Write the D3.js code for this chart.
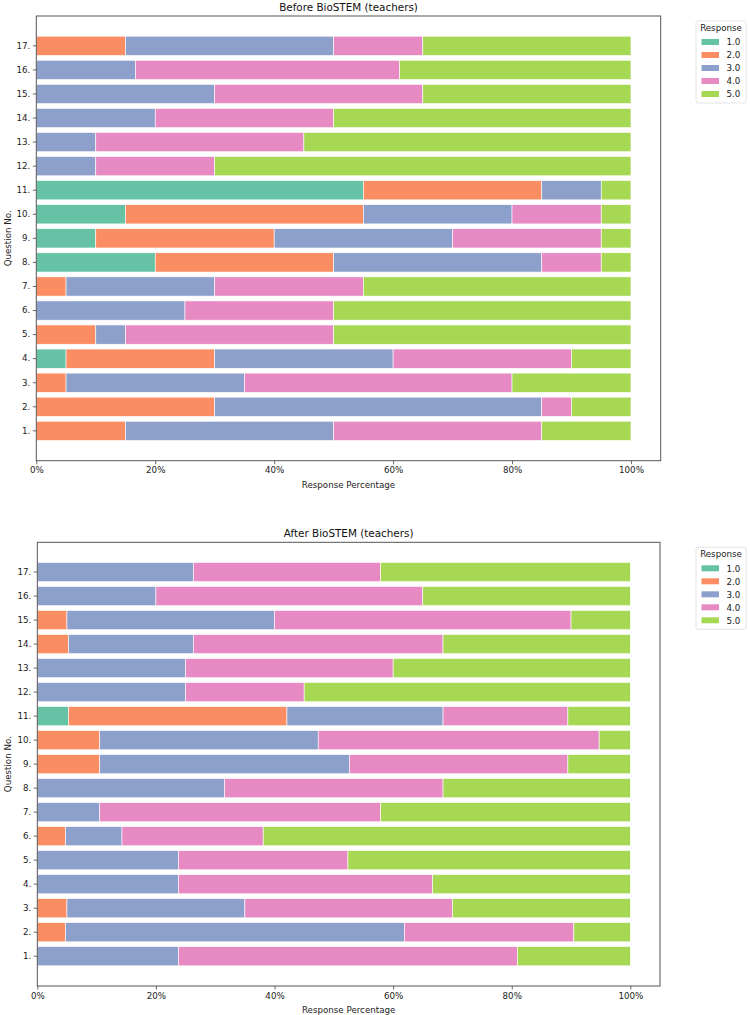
<!DOCTYPE html>
<html>
<head>
<meta charset="utf-8">
<script src="https://cdn.jsdelivr.net/npm/d3@7"></script>
<style>
    body { margin: 0; background: #fff; }
    svg { display: block; font-family: "DejaVu Sans", sans-serif; }
</style>
</head>
<body>
<script>

// data
var QUESTIONS = ["1.", "2.", "3.", "4.", "5.", "6.", "7.", "8.", "9.", "10.",
    "11.", "12.", "13.", "14.", "15.", "16.", "17."];
var RESPONSES = ["1.0", "2.0", "3.0", "4.0", "5.0"];
var COLORS = ["#66c2a5", "#fc8d62", "#8da0cb", "#e78ac3", "#a6d854"];
var X_TICKS = [0, 20, 40, 60, 80, 100];

// percentage per response (1.0 .. 5.0), one row per question 1. .. 17.
var BEFORE = [
    [0, 15, 35, 35, 15],
    [0, 30, 55, 5, 10],
    [0, 5, 30, 45, 20],
    [5, 25, 30, 30, 10],
    [0, 10, 5, 35, 50],
    [0, 0, 25, 25, 50],
    [0, 5, 25, 25, 45],
    [20, 30, 35, 10, 5],
    [10, 30, 30, 25, 5],
    [15, 40, 25, 15, 5],
    [55, 30, 10, 0, 5],
    [0, 0, 10, 20, 70],
    [0, 0, 10, 35, 55],
    [0, 0, 20, 30, 50],
    [0, 0, 30, 35, 35],
    [0, 0, 16.67, 44.44, 38.89],
    [0, 15, 35, 15, 35]
];
var AFTER = [
    [0, 0, 23.81, 57.14, 19.05],
    [0, 4.76, 57.14, 28.57, 9.52],
    [0, 5, 30, 35, 30],
    [0, 0, 23.81, 42.86, 33.33],
    [0, 0, 23.81, 28.57, 47.62],
    [0, 4.76, 9.52, 23.81, 61.9],
    [0, 0, 10.53, 47.37, 42.1],
    [0, 0, 31.58, 36.84, 31.58],
    [0, 10.53, 42.1, 36.84, 10.53],
    [0, 10.53, 36.84, 47.37, 5.26],
    [5.26, 36.84, 26.32, 21.05, 10.53],
    [0, 0, 25, 20, 55],
    [0, 0, 25, 35, 40],
    [0, 5.26, 21.05, 42.1, 31.58],
    [0, 5, 35, 50, 10],
    [0, 0, 20, 45, 35],
    [0, 0, 26.32, 31.58, 42.1]
];

var WIDTH = 750, HEIGHT = 1015;

var svg = d3.select("body").append("svg")
    .attr("width", WIDTH)
    .attr("height", HEIGHT);

var color = d3.scaleOrdinal().domain(RESPONSES).range(COLORS);

// draw one stacked horizontal bar panel
function drawPanel(title, values, box) {
    var g = svg.append("g");

    // table for d3.stack
    var table = QUESTIONS.map(function (q, i) {
        var row = {question: q};
        RESPONSES.forEach(function (r, j) {
            row[r] = values[i][j];
        });
        return row;
    });
    var series = d3.stack().keys(RESPONSES)(table);

    var xScale = d3.scaleLinear().domain([0, 105]).range([box.left, box.right]);
    var yScale = d3.scaleBand()
        .domain(QUESTIONS.slice().reverse())
        .range([box.top, box.bottom])
        .paddingInner(0.2)
        .paddingOuter(0.84);

    // bars
    g.selectAll("g.series")
        .data(series)
        .enter().append("g")
        .attr("class", "series")
        .attr("fill", function (d) { return color(d.key); })
        .selectAll("rect")
        .data(function (d) { return d; })
        .enter().append("rect")
        .attr("x", function (d) { return xScale(d[0]); })
        .attr("y", function (d) { return yScale(d.data.question); })
        .attr("width", function (d) { return xScale(d[1]) - xScale(d[0]); })
        .attr("height", yScale.bandwidth())
        .attr("stroke", "#fff")
        .attr("stroke-width", 0.6);

    // frame
    g.append("rect")
        .attr("x", box.left).attr("y", box.top)
        .attr("width", box.right - box.left)
        .attr("height", box.bottom - box.top)
        .attr("fill", "none")
        .attr("stroke", "#555")
        .attr("stroke-width", 1);

    // axes
    var xAxis = d3.axisBottom(xScale)
        .tickValues(X_TICKS)
        .tickSize(3.5).tickPadding(3)
        .tickFormat(function (d) { return d + "%"; });
    var yAxis = d3.axisLeft(yScale).tickSize(3.5).tickPadding(2.5);

    var ax = g.append("g")
        .attr("transform", "translate(0," + box.bottom + ")")
        .call(xAxis);
    var ay = g.append("g")
        .attr("transform", "translate(" + box.left + ",0)")
        .call(yAxis);
    [ax, ay].forEach(function (a) {
        a.select(".domain").remove();
        a.selectAll("line").attr("stroke", "#444").attr("stroke-width", 0.8);
        a.selectAll("text")
            .attr("fill", "#222")
            .style("font-size", "8.7px")
            .style("font-family", "DejaVu Sans");
    });

    // titles
    g.append("text")
        .attr("x", (box.left + box.right) / 2)
        .attr("y", box.top - 5)
        .attr("text-anchor", "middle")
        .style("font-size", "10.4px")
        .attr("fill", "#111")
        .text(title);
    g.append("text")
        .attr("x", (box.left + box.right) / 2)
        .attr("y", box.bottom + 27)
        .attr("text-anchor", "middle")
        .style("font-size", "8.7px")
        .attr("fill", "#222")
        .text("Response Percentage");
    g.append("text")
        .attr("transform", "translate(" + 11 + "," + ((box.top + box.bottom) / 2) + ") rotate(-90)")
        .attr("text-anchor", "middle")
        .style("font-size", "8.7px")
        .attr("fill", "#222")
        .text("Question No.");

    // legend
    var lg = g.append("g").attr("transform", "translate(696," + (box.top + 5) + ")");
    lg.append("rect")
        .attr("x", 0).attr("y", 0)
        .attr("width", 50).attr("height", 82)
        .attr("rx", 2)
        .attr("fill", "#fff")
        .attr("stroke", "#ddd")
        .attr("stroke-width", 0.8);
    lg.append("text")
        .attr("x", 25).attr("y", 10)
        .attr("text-anchor", "middle")
        .style("font-size", "8.7px")
        .attr("fill", "#222")
        .text("Response");
    var items = lg.selectAll("g.item")
        .data(RESPONSES)
        .enter().append("g")
        .attr("class", "item")
        .attr("transform", function (d, i) { return "translate(0," + (21 + i * 13) + ")"; });
    items.append("rect")
        .attr("x", 5.5).attr("y", -3)
        .attr("width", 17.5).attr("height", 6)
        .attr("fill", function (d) { return color(d); });
    items.append("text")
        .attr("x", 30.5).attr("y", 3.2)
        .style("font-size", "8.7px")
        .attr("fill", "#222")
        .text(function (d) { return d; });
}

drawPanel("Before BioSTEM (teachers)", BEFORE, {left: 36.3, right: 660.7, top: 16, bottom: 460.7});
drawPanel("After BioSTEM (teachers)", AFTER, {left: 37.3, right: 660, top: 542.3, bottom: 986});

</script>
</body>
</html>
